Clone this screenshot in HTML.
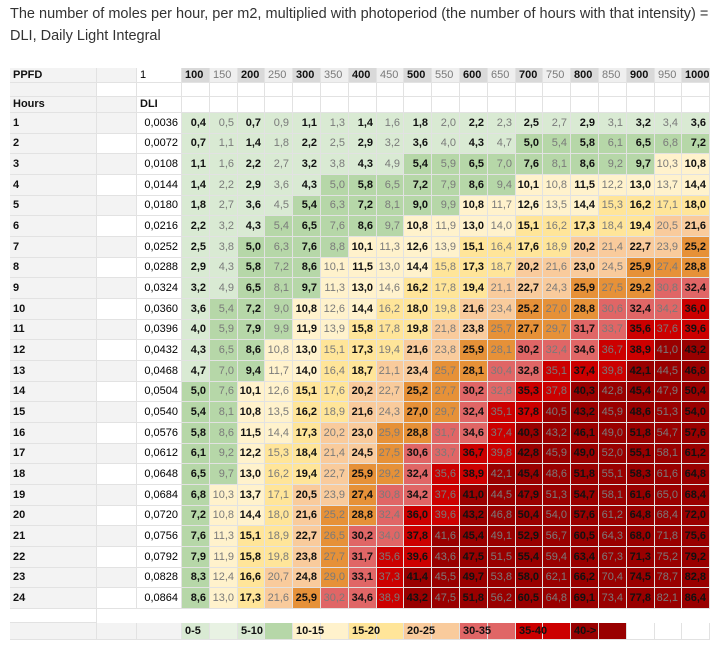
<!DOCTYPE html>
<html><head><meta charset="utf-8"><style>
body{margin:0;width:724px;height:652px;background:#fff;overflow:hidden;position:relative;font-family:"Liberation Sans",Arial,sans-serif}
#title{position:absolute;left:10px;top:3px;width:700px;font-size:14.5px;line-height:22px;color:#333}
#sheet{position:absolute;left:0;top:0}
.c{position:absolute;box-sizing:border-box;border-right:1px solid #e2e2e2;border-bottom:1px solid #e2e2e2;font-size:11px;white-space:nowrap;overflow:hidden}
.r{text-align:right;padding-right:3px}
.l{text-align:left;padding-left:3px}
.v{overflow:visible;z-index:2}
.b{font-weight:bold;color:#111}
.g{color:#7a7a7a}
</style></head><body>
<div id="title">The number of moles per hour, per m2, multiplied with photoperiod (the number of hours with that intensity) = DLI, Daily Light Integral</div>
<div id="sheet"></div>
<script>
const ppfd=[100,150,200,250,300,350,400,450,500,550,600,650,700,750,800,850,900,950,1000];
const hours=[1,2,3,4,5,6,7,8,9,10,11,12,13,14,15,16,17,18,19,20,21,22,23,24];
const molesPerHour=0.0036;
const bandLimits=[5,10,15,20,25,30,35,40];
const bandColors=["#d9ead3","#b6d7a8","#fff2cc","#ffe599","#f9cb9c","#e69138","#e06666","#cc0000","#990000"];
const legendLabels=["0-5","5-10","10-15","15-20","20-25","30-35","35-40","40->"];
const legendColors=[["#d9ead3","#e8f2e3"],["#d9ead3","#b6d7a8"],["#fff2cc","#fff2cc"],["#ffe599","#ffe599"],["#f9cb9c","#f9cb9c"],["#e06666","#e06666"],["#cc0000","#cc0000"],["#990000","#990000"]];

const sheet=document.getElementById('sheet');
const colA=10,colB=97,colC=137,dataX=182,cw=27.8,rowH=20.67;
const rowTop=113;
function xOf(i){return Math.round(dataX+i*cw);}
function wOf(i){return xOf(i+1)-xOf(i);}
function yOf(r){return Math.round(rowTop+r*rowH);}
function hOf(r){return yOf(r+1)-yOf(r);}
function fmt(v,d){return v.toFixed(d).replace('.',',');}
function color(v){let i=0;while(i<bandLimits.length&&v>=bandLimits[i])i++;return bandColors[i];}
function cell(x,y,w,h,txt,cls,bg,name){
  const d=document.createElement('div');
  d.className='c '+cls;
  d.style.left=x+'px';d.style.top=y+'px';d.style.width=w+'px';d.style.height=h+'px';
  d.style.lineHeight=(h-1)+'px';
  if(bg)d.style.background=bg;
  d.textContent=txt;
  
  
  sheet.appendChild(d);return d;
}
// header row
cell(colA,68,colB-colA,15,'PPFD','l b','#f3f3f3','ppfd-label');
cell(colB,68,colC-colB,15,'','l','#f3f3f3','blank-cell');
cell(colC,68,dataX-colC,15,'1','l','#fff','ppfd-unit');
ppfd.forEach((p,i)=>{const odd=i%2==1;
  cell(xOf(i),68,wOf(i),15,String(p),'l '+(odd?'g':'b'),odd?'#efefef':'#d9d9d9','ppfd-header-'+p);});
// blank row
cell(colA,83,colB-colA,14,'','l','#f3f3f3','blank-cell');
cell(colB,83,colC-colB,14,'','l','#fff','blank-cell');
cell(colC,83,dataX-colC,14,'','l','#fff','blank-cell');
ppfd.forEach((p,i)=>cell(xOf(i),83,wOf(i),14,'','l','#fff','blank-cell'));
// hours row
cell(colA,97,colB-colA,16,'Hours','l b','#f3f3f3','hours-label');
cell(colB,97,colC-colB,16,'','l','#f3f3f3','blank-cell');
cell(colC,97,dataX-colC,16,'DLI','l b','#fff','dli-label');
ppfd.forEach((p,i)=>cell(xOf(i),97,wOf(i),16,'','l','#fff','blank-cell'));
// data rows
hours.forEach((h,r)=>{
  const y=yOf(r),hh=hOf(r);
  const dli=h*molesPerHour;
  cell(colA,y,colB-colA,hh,String(h),'l b','#f3f3f3','hour-'+h);
  cell(colB,y,colC-colB,hh,'','l',r%2==0?'#f3f3f3':'#fff','blank-cell');
  cell(colC,y,dataX-colC,hh,fmt(dli,4),'r','#fff','dli-factor-'+h);
  ppfd.forEach((p,i)=>{
    const v=Math.round(p*dli*10)/10;
    cell(xOf(i),y,wOf(i),hh,fmt(v,1),'r '+(i%2?'g':'b'),color(v),'cell-'+h+'h-'+p);
  });
});
// blank row after
const yb=yOf(24);
cell(colA,yb,colB-colA,14,'','l','#fff','blank-cell');
// legend
const yl=yb+14;
cell(colA,yl,colB-colA,17,'','l','#f3f3f3','blank-cell');
cell(colB,yl,colC-colB,17,'','l','#f3f3f3','blank-cell');
cell(colC,yl,dataX-colC,17,'','l','#f3f3f3','blank-cell');
legendLabels.forEach((lab,k)=>{
  cell(xOf(2*k+1),yl,wOf(2*k+1),17,'','l',legendColors[k][1],'legend-swatch-'+lab.replace('->','plus'));
  cell(xOf(2*k),yl,wOf(2*k),17,lab,'l b v',legendColors[k][0],'legend-entry-'+lab.replace('->','plus'));
});
for(let i=16;i<19;i++)cell(xOf(i),yl,wOf(i),17,'','l','#fff','blank-cell');
</script>
</body></html>
